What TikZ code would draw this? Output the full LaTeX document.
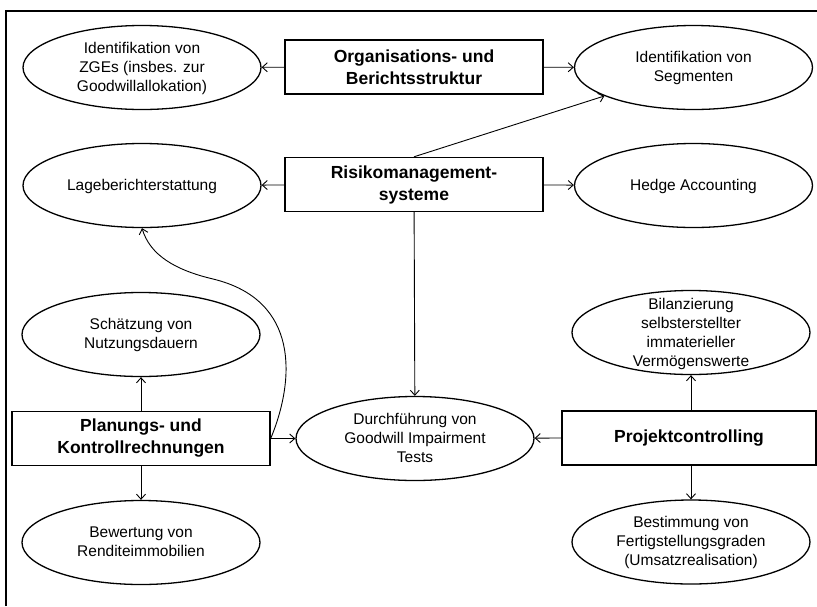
\documentclass[tikz,border=0pt]{standalone}
\usepackage{fontspec}
\setmainfont{Liberation Sans}
\usetikzlibrary{shapes.geometric,arrows.meta}
\newcommand\elltext[1]{\raisebox{-0.3em}[0pt][0pt]{\begin{tabular}{@{}c@{}}#1\end{tabular}}}
\begin{document}
\begin{tikzpicture}[x=1pt,y=-1pt,
  ell/.style={ellipse, draw, line width=1.3pt, minimum width=238pt, minimum height=84pt, inner sep=0pt, font=\fontsize{15.5}{19}\selectfont},
  bx/.style={rectangle, draw, line width=1.4pt, minimum width=258pt, minimum height=54pt, inner sep=0pt, align=center, font=\fontsize{17.5}{22}\selectfont\bfseries},
  conn/.style={line width=0.9pt, -{Straight Barb[length=5pt,width=9pt]}}]
\useasboundingbox (0,0) rectangle (817,606);
\draw[line width=1.4pt] (6,606) -- (6,11) -- (817,11);
% boxes
\node[bx] (org) at (414,67) {Organisations- und\\Berichtsstruktur};
\node[bx] (risk) at (414,184.5) {Risikomanagement-\\systeme};
\node[bx] (plan) at (141,438.5) {Planungs- und\\Kontrollrechnungen};
\node[bx, minimum width=254pt] (proj) at (689,438) {Projektcontrolling};
% ellipses
\node[ell] (zge) at (142,67.5) {\elltext{Identifikation von\\ZGEs (insbes. zur\\Goodwillallokation)}};
\node[ell] (seg) at (693.5,67.5) {\elltext{Identifikation von\\Segmenten}};
\node[ell] (lage) at (142,185.5) {\elltext{Lageberichterstattung}};
\node[ell] (hedge) at (693.5,185.5) {\elltext{Hedge Accounting}};
\node[ell] (good) at (415,438.5) {\elltext{Durchführung von\\Goodwill Impairment\\Tests}};
\node[ell] (schaetz) at (141,334.5) {\elltext{Schätzung von\\Nutzungsdauern}};
\node[ell] (bew) at (141,542.5) {\elltext{Bewertung von\\Renditeimmobilien}};
\node[ell] (bil) at (691,332.5) {\raisebox{-2pt}{\elltext{Bilanzierung\\selbsterstellter\\immaterieller\\Vermögenswerte}}};
\node[ell] (best) at (691,542) {\elltext{Bestimmung von\\Fertigstellungsgraden\\(Umsatzrealisation)}};
% connectors
\draw[conn] (org) -- (zge);
\draw[conn] (org) -- (seg);
\draw[conn] (risk) -- (lage);
\draw[conn] (risk) -- (hedge);
\draw[conn] (risk.north) -- (seg);
\draw[conn] (risk) -- (good);
\draw[conn] (plan) -- (schaetz);
\draw[conn] (plan) -- (bew);
\draw[conn] (plan) -- (good);
\draw[conn] (proj.west) -- (good);
\draw[conn] ([xshift=2pt]proj.north) -- (bil);
\draw[conn] ([xshift=2pt]proj.south) -- (best);
\coordinate (cm) at (213,279);
\draw[conn] (plan.east) .. controls (295,380) and (300,300) .. (cm) .. controls (175,270) and (150,255) .. (lage.south);
\end{tikzpicture}
\end{document}
